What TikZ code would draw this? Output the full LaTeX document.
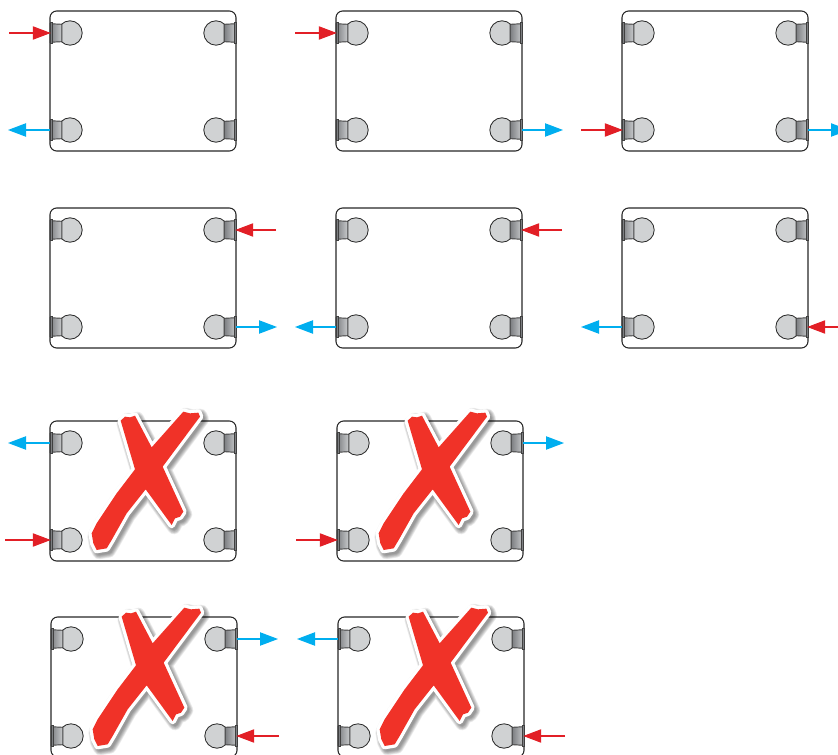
\documentclass[tikz,border=0pt]{standalone}
\usepackage{xcolor}
\usepackage{tikz}
\usetikzlibrary{arrows.meta, calc}
\definecolor{hotred}{RGB}{226,31,38}
\definecolor{coldblue}{RGB}{0,174,239}
\definecolor{crossred}{RGB}{240,50,40}
\definecolor{bulbgray}{RGB}{208,210,211}
\definecolor{neckgray}{RGB}{200,202,204}
\definecolor{flangegray}{RGB}{125,127,130}
\tikzset{
  panelbox/.style={rectangle, draw=black!85, line width=0.8pt, rounded corners=5pt, minimum width=139.5pt, minimum height=105pt, inner sep=0pt, outer sep=0pt, anchor=north west},
  bulb/.style={draw=black!85, fill=bulbgray, line width=0.6pt},
  neck/.style={draw=black!75, left color=flangegray, right color=neckgray, line width=0.7pt},
  flange/.style={draw=black!75, fill=flangegray, line width=0.4pt},
  inflow/.style={hotred, line width=0.8pt, shorten >=-0.6pt, -{Triangle[length=13.5pt, width=10pt]}},
  outflow/.style={coldblue, line width=0.8pt, -{Triangle[length=13.5pt, width=10pt]}}
}
% one fitting of a panel, #2=1 on the left edge, #2=-1 on the right edge
\newcommand{\fitting}[2]{
  \begin{scope}[shift={(#1)}, xscale=#2]
    \draw[bulb] (20,0) circle (12.2);
    \draw[neck] (0,-9.3) -- (11.8,-8.7) -- (11.8,8.7) -- (0,9.3) -- cycle;
    \draw[flange] (0,-10.5) rectangle (2,10.5);
  \end{scope}
}
\newcommand{\radiator}[3]{
  \node[panelbox] (#1) at (#2,#3) {};
  \coordinate (#1tl) at ($(#1.north west)+(0,22)$);
  \coordinate (#1bl) at ($(#1.north west)+(0,119)$);
  \coordinate (#1tr) at ($(#1.north east)+(0,22)$);
  \coordinate (#1br) at ($(#1.north east)+(0,119)$);
  \fitting{#1tl}{1}
  \fitting{#1bl}{1}
  \fitting{#1tr}{-1}
  \fitting{#1br}{-1}
}
\newcommand{\crosspath}{(122,62) -- (135,50) -- (150,52) -- (165,47) -- (215,142) -- (310,35) -- (330,40) -- (355,38) -- (360,50) -- (248,200) -- (310,335) -- (300,350) -- (285,355) -- (275,375) -- (197,268) -- (140,340) -- (95,420) -- (80,445) -- (50,450) -- (40,430) -- (35,400) -- (50,370) -- (110,280) -- (165,208) -- cycle}
\newcommand{\crossmark}[1]{
  \begin{scope}[shift={(#1.north west)}, shift={(30,-21)}, scale=1/3]
    \foreach \w in {10,9,8,7,6,5,4}{
      \draw[black, opacity=0.07, line width=\w pt, line join=round, shift={(7,8)}] \crosspath;
    }
    \draw[white, fill=white, line width=5pt, line join=round] \crosspath;
    \fill[crossred] \crosspath;
  \end{scope}
}
\begin{document}
\begin{tikzpicture}[x=0.75pt, y=-0.75pt]
\useasboundingbox (0,0) rectangle (838,755);
\clip (0,0) rectangle (838,755);
% good connections
\radiator{a}{50}{11}
\radiator{b}{336}{11}
\radiator{c}{622}{11}
\radiator{d}{50}{208}
\radiator{e}{336}{208}
\radiator{f}{622}{208}
% wrong connections
\radiator{g}{50}{421}
\radiator{h}{337}{421}
\radiator{i}{51}{617}
\radiator{j}{338}{617}
\foreach \to/\x in {atl/9, btl/295, cbl/581, dtr/276, etr/562, fbr/842, gbl/5, hbl/296, ibr/279, jbr/565}{
  \coordinate (free) at (\to -| \x,0);
  \draw[inflow] (free) -- (\to);
}
\foreach \from/\x in {abl/8, bbr/563, cbr/849, dbr/277, ebl/295, fbl/581, gtl/8, htr/564, itr/278, jtl/297}{
  \coordinate (free) at (\from -| \x,0);
  \draw[outflow] (\from) -- (free);
}
\crossmark{g}
\crossmark{h}
\crossmark{i}
\crossmark{j}
\end{tikzpicture}
\end{document}
